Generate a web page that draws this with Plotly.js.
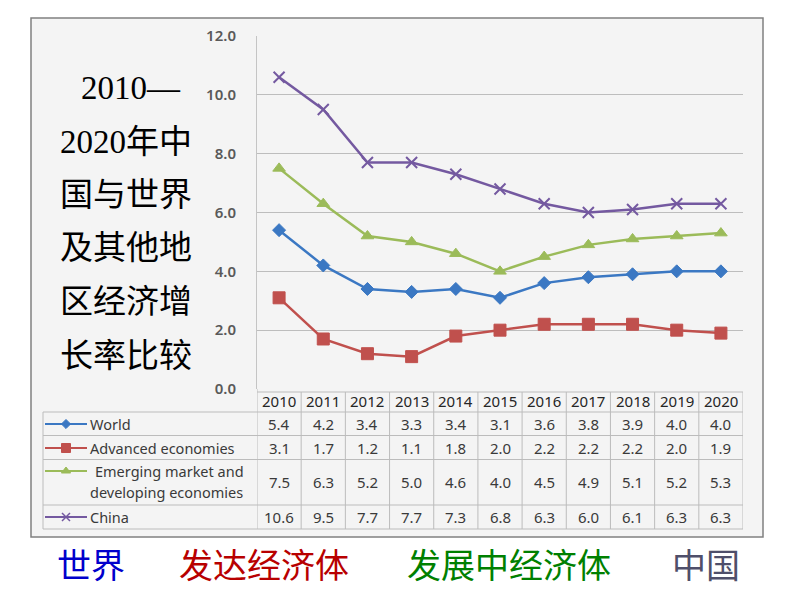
<!DOCTYPE html>
<html><head><meta charset="utf-8">
<script src="https://cdn.plot.ly/plotly-3.0.1.min.js"></script>
<style>body{margin:0;background:#fff}#c{width:794px;height:596px}</style>
</head><body><div id="c"></div>
<script>
const years = ['2010','2011','2012','2013','2014','2015','2016','2017','2018','2019','2020'];
const world    = [5.4,4.2,3.4,3.3,3.4,3.1,3.6,3.8,3.9,4.0,4.0];
const advanced = [3.1,1.7,1.2,1.1,1.8,2.0,2.2,2.2,2.2,2.0,1.9];
const emerging = [7.5,6.3,5.2,5.0,4.6,4.0,4.5,4.9,5.1,5.2,5.3];
const china    = [10.6,9.5,7.7,7.7,7.3,6.8,6.3,6.0,6.1,6.3,6.3];
const seriesNames = ['World','Advanced economies','Emerging market and developing economies','China'];
const titleLines = ['2010—','2020年中','国与世界','及其他地','区经济增','长率比较'];
const bottomLabels = ['世界','发达经济体','发展中经济体','中国'];

const W=794,H=596;
const px=x=>x/W, py=y=>1-y/H;
const colors=['#3b78c3','#c0504d','#9bbb59','#7459a0'];
const symbols=['diamond','square','triangle-up','x-thin-open'];
const msizes=[10,12,11,11];
const allSeries=[world,advanced,emerging,china];

const traces=[];
allSeries.forEach((s,i)=>{
  traces.push({type:'scatter',mode:'lines+markers',x:years,y:s,name:seriesNames[i],
    line:{color:colors[i],width:2.5},
    marker:{symbol:symbols[i],size:msizes[i],color:colors[i],line:{color:colors[i],width:i===3?2:1}},
    cliponaxis:false,showlegend:false,hoverinfo:'skip'});
});
// legend keys inside the data table (overlay pixel axes)
const keyRows=[424,448,471,517];
keyRows.forEach((ky,i)=>{
  traces.push({type:'scatter',mode:'lines',x:[45,87],y:[ky,ky],xaxis:'x2',yaxis:'y2',
    line:{color:colors[i],width:2},showlegend:false,hoverinfo:'skip',cliponaxis:false});
  traces.push({type:'scatter',mode:'markers',x:[66],y:[ky],xaxis:'x2',yaxis:'y2',
    marker:{symbol:symbols[i],size:msizes[i]-3,color:colors[i],line:{color:colors[i],width:i===3?1.5:1}},
    showlegend:false,hoverinfo:'skip',cliponaxis:false});
});

const shapes=[];
shapes.push({type:'rect',xref:'paper',yref:'paper',x0:px(31),x1:px(763),y0:py(18),y1:py(537),
  fillcolor:'#f4f4f4',line:{color:'#808080',width:1.5},layer:'below'});
const tl={color:'#bcbcbc',width:1};
shapes.push({type:'line',xref:'x',yref:'paper',x0:-0.5,x1:10.5,y0:py(392),y1:py(392),line:tl});
[412,435.5,459.5,505,529].forEach(y=>{
  shapes.push({type:'line',xref:'paper',yref:'paper',x0:px(43),x1:px(743),y0:py(y),y1:py(y),line:tl});
});
shapes.push({type:'line',xref:'paper',yref:'paper',x0:px(43),x1:px(43),y0:py(412),y1:py(529),line:tl});
for(let i=0;i<=years.length;i++){
  shapes.push({type:'line',xref:'x',yref:'paper',x0:i-0.5,x1:i-0.5,y0:py(i===0?389:392),y1:py(529),line:tl});
}

const ann=[];
const cellFont={family:'Noto Sans, Liberation Sans, sans-serif',size:15,color:'#3a3a3a'};
years.forEach((y,i)=>{
  ann.push({xref:'x',yref:'paper',x:i,y:py(401),text:y,showarrow:false,xanchor:'center',yanchor:'middle',
    font:{family:'Noto Sans, sans-serif',size:15,color:'#262626'}});
});
const rowY=[424,448,482,517];
allSeries.forEach((s,r)=>{
  s.forEach((v,i)=>{
    ann.push({xref:'x',yref:'paper',x:i,y:py(rowY[r]),text:v.toFixed(1),showarrow:false,
      xanchor:'center',yanchor:'middle',font:cellFont});
  });
});
const labFont={family:'Noto Sans, Liberation Sans, sans-serif',size:14.5,color:'#3a3a3a'};
[['World',88,424],['Advanced economies',88,448],['Emerging market and',93,471],['developing economies',88,492],['China',88,517]]
.forEach(l=>ann.push({xref:'paper',yref:'paper',x:px(l[1]),y:py(l[2]),text:l[0],showarrow:false,
  xanchor:'left',yanchor:'middle',font:labFont}));
const tY=[88,142,195,248,302,356];
titleLines.forEach((t,i)=>{
  ann.push({xref:'paper',yref:'paper',x:px(i===0?79:58),y:py(tY[i]),text:t,showarrow:false,
    xanchor:'left',yanchor:'middle',
    font:{family:'Liberation Serif, Noto Sans CJK SC, serif',size:33,color:'#000'}});
});
const bX=[55,177,405,670];
const bC=['#0000cc','#b80000','#008000','#4f4f6a'];
bottomLabels.forEach((t,i)=>{
  ann.push({xref:'paper',yref:'paper',x:px(bX[i]),y:py(563),text:t,showarrow:false,
    xanchor:'left',yanchor:'middle',font:{family:'Noto Sans CJK SC, sans-serif',size:34,color:bC[i]}});
});

const layout={
  width:W,height:H,margin:{l:0,r:0,t:0,b:0},
  paper_bgcolor:'#ffffff',plot_bgcolor:'rgba(0,0,0,0)',showlegend:false,
  xaxis:{type:'category',domain:[px(257),px(743)],range:[-0.5,10.5],showticklabels:false,
    showgrid:false,zeroline:false,showline:false,ticks:'',fixedrange:true},
  yaxis:{domain:[py(389),py(36)],range:[0,12],dtick:2,tick0:0,tickformat:'.1f',
    showgrid:true,gridcolor:'#bdbdbd',gridwidth:1,zeroline:false,showline:true,linecolor:'#c4c4c4',
    ticks:'',ticklabelstandoff:17,
    tickfont:{family:'Noto Sans, sans-serif',size:15,color:'#595959',weight:600}},
  xaxis2:{domain:[0,1],range:[0,W],visible:false,anchor:'y2',fixedrange:true},
  yaxis2:{domain:[0,1],range:[H,0],visible:false,anchor:'x2',fixedrange:true},
  shapes:shapes,annotations:ann
};
Plotly.newPlot('c',traces,layout,{staticPlot:true,displayModeBar:false});
</script></body></html>
